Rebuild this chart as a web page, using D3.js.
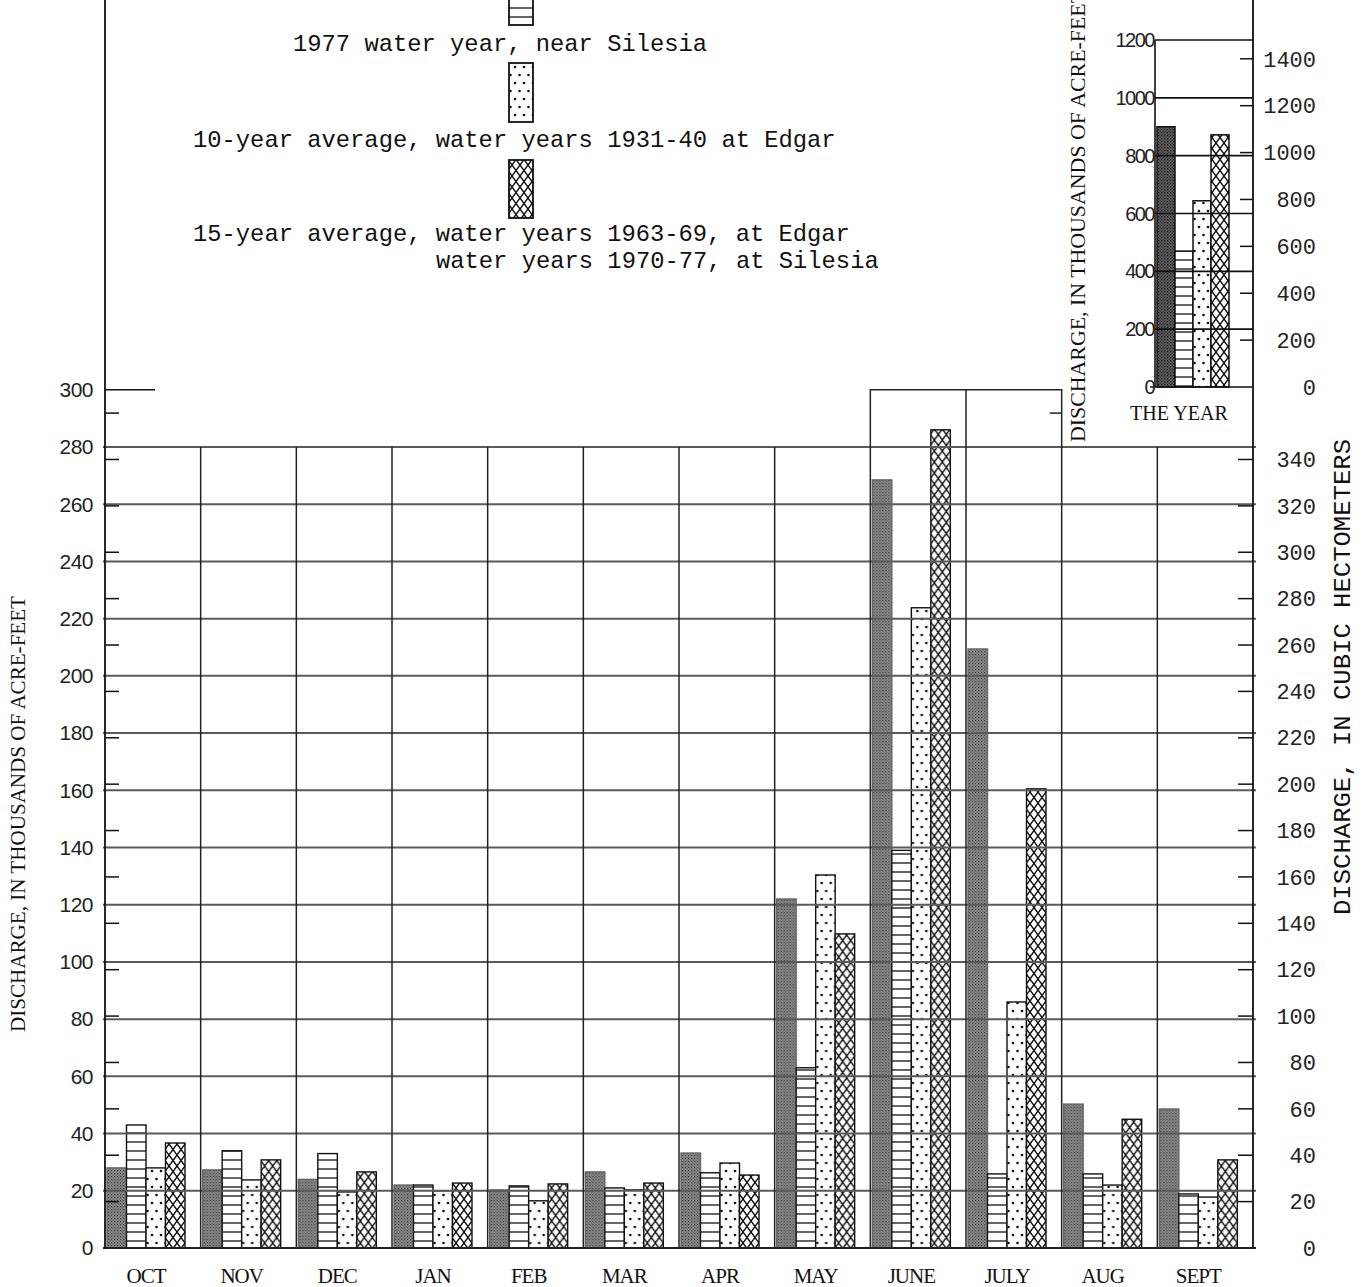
<!DOCTYPE html>
<html>
<head>
<meta charset="utf-8">
<title>Monthly discharge</title>
<script src="https://cdn.jsdelivr.net/npm/d3@7"></script>
<style>
  body { margin: 0; background: #fff; }
  svg { display: block; }
  .mono { font-family: "Liberation Mono", "DejaVu Sans Mono", monospace; }
  .serif { font-family: "Liberation Serif", "DejaVu Serif", serif; }
  .sans { font-family: "Liberation Sans", "DejaVu Sans", sans-serif; }
</style>
</head>
<body>
<svg id="chart" width="1366" height="1287"></svg>
<script>
  // months of the water year
  var months = ['OCT', 'NOV', 'DEC', 'JAN', 'FEB', 'MAR', 'APR', 'MAY', 'JUNE', 'JULY', 'AUG', 'SEPT'];

  // monthly discharge, thousands of acre-feet
  var grayBars     = [28, 27.3, 24, 22, 20.3, 26.6, 33.2, 122, 268.5, 209.4, 50.3, 48.6];
  var silesia1977  = [43, 34, 33, 22, 21.7, 21, 26.3, 63, 139, 25.9, 25.9, 18.9];
  var avg1931to40  = [28, 23.8, 19.6, 20, 16.5, 20.3, 29.7, 130.4, 223.8, 86, 22, 17.8];
  var avg1963to77  = [36.7, 30.8, 26.6, 22.7, 22.4, 22.7, 25.5, 109.8, 286, 160.5, 45, 30.8];

  // the year totals, thousands of acre-feet
  var yearTotals = [900, 470, 644, 872];

  // tick labels
  var leftTicks = d3.range(0, 301, 20);
  var rightTicks = d3.range(0, 341, 20);
  var insetLeftTicks = d3.range(0, 1201, 200);
  var insetRightTicks = d3.range(0, 1401, 200);

  var legendLabels = [
    ['1977 water year, near Silesia'],
    ['10-year average, water years 1931-40 at Edgar'],
    ['15-year average, water years 1963-69, at Edgar', 'water years 1970-77, at Silesia']
  ];

  var HM = 1.2335; // cubic hectometers per thousand acre-feet

  var svg = d3.select('#chart');
  var defs = svg.append('defs');

  // fill patterns
  var pg = defs.append('pattern').attr('id', 'p-gray').attr('patternUnits', 'userSpaceOnUse')
    .attr('width', 3).attr('height', 3);
  pg.append('rect').attr('width', 3).attr('height', 3).attr('fill', '#8e8e8e');
  pg.append('rect').attr('width', 1.2).attr('height', 1.2).attr('fill', '#3a3a3a');
  pg.append('rect').attr('x', 1.5).attr('y', 1.5).attr('width', 1.2).attr('height', 1.2).attr('fill', '#555');

  var pgd = defs.append('pattern').attr('id', 'p-gray-dark').attr('patternUnits', 'userSpaceOnUse')
    .attr('width', 3).attr('height', 3);
  pgd.append('rect').attr('width', 3).attr('height', 3).attr('fill', '#666');
  pgd.append('rect').attr('width', 1.3).attr('height', 1.3).attr('fill', '#111');
  pgd.append('rect').attr('x', 1.5).attr('y', 1.5).attr('width', 1.3).attr('height', 1.3).attr('fill', '#222');

  var pl = defs.append('pattern').attr('id', 'p-lines').attr('patternUnits', 'userSpaceOnUse')
    .attr('width', 10).attr('height', 9);
  pl.append('rect').attr('width', 10).attr('height', 9).attr('fill', '#fff');
  pl.append('line').attr('x1', 0).attr('x2', 10).attr('y1', 8).attr('y2', 8)
    .attr('stroke', '#222').attr('stroke-width', 1.4);

  var pd = defs.append('pattern').attr('id', 'p-dots').attr('patternUnits', 'userSpaceOnUse')
    .attr('width', 9).attr('height', 16);
  pd.append('rect').attr('width', 9).attr('height', 16).attr('fill', '#fbfbfb');
  pd.append('circle').attr('cx', 2).attr('cy', 3).attr('r', 1.3).attr('fill', '#111');
  pd.append('circle').attr('cx', 6.5).attr('cy', 11).attr('r', 1.3).attr('fill', '#111');

  var pc = defs.append('pattern').attr('id', 'p-cross').attr('patternUnits', 'userSpaceOnUse')
    .attr('width', 8).attr('height', 11);
  pc.append('rect').attr('width', 8).attr('height', 11).attr('fill', '#fff');
  pc.append('path').attr('d', 'M0,0L8,11M8,0L0,11M-1,0L1,0')
    .attr('stroke', '#111').attr('stroke-width', 1.4).attr('fill', 'none');

  var fills = ['url(#p-gray)', 'url(#p-lines)', 'url(#p-dots)', 'url(#p-cross)'];
  var series = [grayBars, silesia1977, avg1931to40, avg1963to77];

  // ---------- main chart scales ----------
  var x = d3.scaleBand().domain(months).range([105, 1253]);
  var xSub = d3.scaleBand().domain(d3.range(4)).range([2, 80]);
  var y = d3.scaleLinear().domain([0, 280]).range([1248, 447]);
  var yHm = d3.scaleLinear().domain([0, 280 * HM]).range([1248, 447]);

  // bars
  var rows = months.map((m, i) => ({ month: m, values: series.map(s => s[i]) }));
  var groups = svg.append('g').selectAll('g').data(rows).join('g')
    .attr('transform', d => 'translate(' + x(d.month) + ',0)');
  groups.selectAll('rect').data(d => d.values).join('rect')
    .attr('x', (d, i) => xSub(i))
    .attr('width', xSub.bandwidth())
    .attr('y', d => y(d))
    .attr('height', d => y(0) - y(d))
    .attr('fill', (d, i) => fills[i])
    .attr('stroke', (d, i) => i === 0 ? '#666' : '#111')
    .attr('stroke-width', 1.4);

  // horizontal gridlines every 20 (drawn over bars)
  svg.append('g').selectAll('line').data(d3.range(0, 281, 20)).join('line')
    .attr('x1', 103).attr('x2', 1256)
    .attr('y1', d => y(d)).attr('y2', d => y(d))
    .attr('stroke', d => d === 0 ? '#222' : '#5a5a5a')
    .attr('stroke-width', 2);

  // month dividers
  svg.append('g').selectAll('line').data(months.slice(1)).join('line')
    .attr('x1', d => x(d)).attr('x2', d => x(d))
    .attr('y1', y(280)).attr('y2', y(0))
    .attr('stroke', '#222').attr('stroke-width', 1.5);

  // box above June and July
  var boxTop = y(300);
  svg.append('path')
    .attr('d', 'M' + x('JUNE') + ',' + y(280) + 'V' + boxTop + 'H' + (x('JULY') + x.bandwidth()) + 'V' + y(280)
      + 'M' + x('JULY') + ',' + boxTop + 'V' + y(280))
    .attr('fill', 'none').attr('stroke', '#222').attr('stroke-width', 1.5);
  svg.append('line')
    .attr('x1', x('JULY') + x.bandwidth() - 12).attr('x2', x('JULY') + x.bandwidth())
    .attr('y1', yHm(360)).attr('y2', yHm(360))
    .attr('stroke', '#222').attr('stroke-width', 1.5);

  // outer axis lines
  svg.append('line').attr('x1', 105).attr('x2', 105).attr('y1', 0).attr('y2', 1249)
    .attr('stroke', '#111').attr('stroke-width', 1.8);
  svg.append('line').attr('x1', 1253).attr('x2', 1253).attr('y1', 0).attr('y2', 1249)
    .attr('stroke', '#111').attr('stroke-width', 1.8);

  // left ticks (on the cubic hectometer spacing) and long tick at 300
  svg.append('g').selectAll('line').data(d3.range(20, 361, 20)).join('line')
    .attr('x1', 105).attr('x2', 119)
    .attr('y1', d => yHm(d)).attr('y2', d => yHm(d))
    .attr('stroke', '#111').attr('stroke-width', 1.5);
  svg.append('line').attr('x1', 105).attr('x2', 155).attr('y1', y(300)).attr('y2', y(300))
    .attr('stroke', '#111').attr('stroke-width', 1.5);

  // right ticks
  svg.append('g').selectAll('line').data(rightTicks.filter(d => d > 0)).join('line')
    .attr('x1', 1238).attr('x2', 1253)
    .attr('y1', d => yHm(d)).attr('y2', d => yHm(d))
    .attr('stroke', '#111').attr('stroke-width', 1.5);

  // left tick labels
  svg.append('g').attr('class', 'sans').selectAll('text').data(leftTicks).join('text')
    .attr('x', 93).attr('y', d => y(d)).attr('dy', '0.35em')
    .attr('text-anchor', 'end').attr('font-size', 21).attr('fill', '#222')
    .attr('letter-spacing', -0.5)
    .text(d => d);

  // right tick labels
  svg.append('g').attr('class', 'mono').selectAll('text').data(rightTicks).join('text')
    .attr('x', 1316).attr('y', d => yHm(d)).attr('dy', '0.35em')
    .attr('text-anchor', 'end').attr('font-size', 22).attr('fill', '#222')
    .text(d => d);

  // month labels
  svg.append('g').attr('class', 'serif').selectAll('text').data(months).join('text')
    .attr('x', d => x(d) + 41).attr('y', 1283)
    .attr('text-anchor', 'middle').attr('font-size', 21).attr('fill', '#111')
    .attr('letter-spacing', -1)
    .text(d => d);

  // axis titles
  svg.append('text').attr('class', 'serif')
    .attr('transform', 'translate(25,1032) rotate(-90)')
    .attr('font-size', 21).attr('fill', '#111')
    .attr('textLength', 436).attr('lengthAdjust', 'spacingAndGlyphs')
    .text('DISCHARGE, IN THOUSANDS OF ACRE-FEET');
  svg.append('text').attr('class', 'mono')
    .attr('transform', 'translate(1350,915) rotate(-90)')
    .attr('font-size', 23).attr('fill', '#111')
    .attr('textLength', 476).attr('lengthAdjust', 'spacingAndGlyphs')
    .text('DISCHARGE, IN CUBIC HECTOMETERS');

  // ---------- inset: the year ----------
  var yIn = d3.scaleLinear().domain([0, 1200]).range([387, 40]);
  var yInHm = d3.scaleLinear().domain([0, 1200 * HM]).range([387, 40]);
  var xIn = d3.scaleBand().domain(d3.range(4)).range([1157, 1229]);
  var inFills = ['url(#p-gray-dark)', 'url(#p-lines)', 'url(#p-dots)', 'url(#p-cross)'];

  svg.append('g').selectAll('rect').data(yearTotals).join('rect')
    .attr('x', (d, i) => xIn(i)).attr('width', xIn.bandwidth())
    .attr('y', d => yIn(d)).attr('height', d => yIn(0) - yIn(d))
    .attr('fill', (d, i) => inFills[i])
    .attr('stroke', '#111').attr('stroke-width', 1.5);

  svg.append('g').selectAll('line').data(insetLeftTicks).join('line')
    .attr('x1', d => d === 0 ? 1150 : 1155).attr('x2', 1253)
    .attr('y1', d => yIn(d)).attr('y2', d => yIn(d))
    .attr('stroke', '#111').attr('stroke-width', 1.6);
  svg.append('line').attr('x1', 1155).attr('x2', 1155).attr('y1', yIn(1200)).attr('y2', yIn(0))
    .attr('stroke', '#111').attr('stroke-width', 1.6);

  svg.append('g').selectAll('line').data(insetRightTicks.filter(d => d > 0)).join('line')
    .attr('x1', 1240).attr('x2', 1253)
    .attr('y1', d => yInHm(d)).attr('y2', d => yInHm(d))
    .attr('stroke', '#111').attr('stroke-width', 1.5);

  svg.append('g').attr('class', 'sans').selectAll('text').data(insetLeftTicks).join('text')
    .attr('x', 1154).attr('y', d => yIn(d)).attr('dy', '0.35em')
    .attr('text-anchor', 'end').attr('font-size', 20).attr('fill', '#222')
    .attr('letter-spacing', -1.5)
    .text(d => d);

  svg.append('g').attr('class', 'mono').selectAll('text').data(insetRightTicks).join('text')
    .attr('x', 1316).attr('y', d => yInHm(d)).attr('dy', '0.35em')
    .attr('text-anchor', 'end').attr('font-size', 22).attr('fill', '#222')
    .text(d => d);

  svg.append('text').attr('class', 'serif')
    .attr('x', 1179).attr('y', 420).attr('text-anchor', 'middle')
    .attr('font-size', 20).attr('fill', '#111')
    .attr('textLength', 98).attr('lengthAdjust', 'spacingAndGlyphs')
    .text('THE YEAR');

  svg.append('text').attr('class', 'serif')
    .attr('transform', 'translate(1085,442) rotate(-90)')
    .attr('font-size', 21).attr('fill', '#111')
    .attr('textLength', 452).attr('lengthAdjust', 'spacingAndGlyphs')
    .text('DISCHARGE, IN THOUSANDS OF ACRE-FEET');

  // ---------- legend ----------
  var legendBoxes = [
    { fill: 'url(#p-lines)', y0: -20, y1: 25 },
    { fill: 'url(#p-dots)', y0: 63, y1: 122 },
    { fill: 'url(#p-cross)', y0: 160, y1: 218 }
  ];
  svg.append('g').selectAll('rect').data(legendBoxes).join('rect')
    .attr('x', 509).attr('width', 24)
    .attr('y', d => d.y0).attr('height', d => d.y1 - d.y0)
    .attr('fill', d => d.fill).attr('stroke', '#111').attr('stroke-width', 1.8);

  var legendText = [
    { text: legendLabels[0][0], x: 293, y: 51 },
    { text: legendLabels[1][0], x: 193, y: 147 },
    { text: legendLabels[2][0], x: 193, y: 241 },
    { text: legendLabels[2][1], x: 436, y: 268 }
  ];
  svg.append('g').attr('class', 'mono').selectAll('text').data(legendText).join('text')
    .attr('x', d => d.x).attr('y', d => d.y)
    .attr('font-size', 23.8).attr('fill', '#111')
    .text(d => d.text);
</script>
</body>
</html>
